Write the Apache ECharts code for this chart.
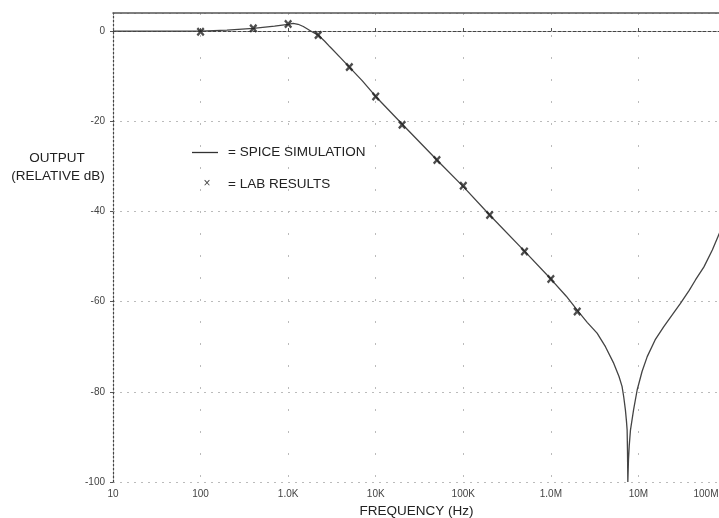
<!DOCTYPE html>
<html>
<head>
<meta charset="utf-8">
<script src="https://cdn.jsdelivr.net/npm/echarts@6/dist/echarts.min.js"></script>
<style>
  html, body { margin: 0; padding: 0; background: #fff; overflow: hidden; }
  /* 图表比窗口略宽，右边 100M 网格线落在窗口外（与原图一致） */
  #chart { width: 726px; height: 518px; }
</style>
</head>
<body>
<div id="chart"></div>
<script>
// 频率刻度标签（对数轴，每十倍一个）
var xTickLabels = ['10', '100', '1.0K', '10K', '100K', '1.0M', '10M', '100M'];

// SPICE 仿真曲线（频率 Hz / 输出 dB）
var simFreq = [10, 30, 100, 200, 400, 700, 1000, 1140, 1300, 1490, 1870, 2200, 2600, 3000, 4000, 5000,
  7000, 10000, 20000, 50000, 100000, 200000, 500000, 1e6, 1.5e6, 2e6, 2.6e6, 3.37e6, 4.2e6, 5.23e6, 6e6, 6.5e6,
  6.79e6, 7.1e6, 7.3e6, 7.43e6, 7.5e6, 7.57e6,
  7.7e6, 7.85e6, 8.11e6, 8.8e6, 9.67e6, 1.1e7, 1.26e7, 1.55e7, 1.94e7, 2.5e7, 3.02e7, 3.8e7, 4.48e7, 5.6e7, 7e7, 8.5e7, 1e8];
var simDb = [0, 0, 0, 0.2, 0.6, 1.1, 1.5, 1.7, 1.5, 1.0, -0.15, -0.9, -2.2, -3.5, -6.0, -8.0,
  -11.0, -14.5, -20.6, -28.6, -34.5, -40.8, -48.8, -55.0, -58.8, -61.9, -64.6, -67.0, -70.0, -73.7, -76.6, -78.8,
  -81.1, -84.0, -86.5, -88.5, -93, -100,
  -95, -92, -88.5, -84, -79.6, -75.5, -72.2, -68.5, -65.6, -62.6, -60.4, -57.5, -55.2, -52.3, -48.5, -44.6, -41];

// 实验测量点
var labFreq = [100, 400, 1000, 2200, 5000, 10000, 20000, 50000, 100000, 200000, 500000, 1e6, 2e6];
var labDb = [-0.15, 0.6, 1.55, -0.9, -8.0, -14.5, -20.8, -28.6, -34.3, -40.8, -48.9, -55.0, -62.2];

var FONT = '"Liberation Sans", Arial, sans-serif';
var chart = echarts.init(document.getElementById('chart'));

var simData = simFreq.map(function (f, i) { return [f, simDb[i]]; });
var labData = labFreq.map(function (f, i) { return [f, labDb[i]]; });

// 粗体 × 形状
var crossPath = 'path://M0,2L2,0L5,3L8,0L10,2L7,5L10,8L8,10L5,7L2,10L0,8L3,5Z';

var option = {
    backgroundColor: '#fff',
    animation: false,
    grid: { left: 113, right: 0, top: 13, bottom: 36, outerBoundsMode: 'none' },
    xAxis: [
        {
            type: 'log',
            logBase: 10,
            min: 10,
            max: 1e8,
            name: 'FREQUENCY (Hz)',
            nameLocation: 'middle',
            nameGap: 20,
            nameTextStyle: { color: '#222', fontSize: 13.5, fontFamily: FONT, padding: [0, 6, 0, 0] },
            axisLine: { lineStyle: { color: '#444', type: [3, 2], width: 1.2 } },
            axisTick: { show: true, inside: true, length: 3, lineStyle: { color: '#555' } },
            axisLabel: {
                color: '#444', fontSize: 10, fontFamily: FONT, margin: 7,
                formatter: function (v) {
                    var i = Math.round(Math.log10(v)) - 1;
                    if (i === xTickLabels.length - 1) return '{last|' + xTickLabels[i] + '}';
                    return xTickLabels[i];
                },
                rich: { last: { color: '#444', fontSize: 10, fontFamily: FONT, padding: [0, 40, 0, 0] } }
            },
            splitLine: { show: true, lineStyle: { color: '#bbb', type: [2, 20], width: 1 } }
        },
        {
            type: 'log',
            logBase: 10,
            min: 10,
            max: 1e8,
            position: 'top',
            axisLine: { lineStyle: { color: '#555', width: 1.5 } },
            axisTick: { show: false },
            axisLabel: { show: false },
            splitLine: { show: false }
        }
    ],
    yAxis: {
        type: 'value',
        min: -100,
        max: 4,
        interval: 20,
        axisLine: { show: true, lineStyle: { color: '#444', type: [2, 2], width: 1.2 } },
        axisTick: { show: true, length: 3, lineStyle: { color: '#555' } },
        axisLabel: { color: '#444', fontSize: 10, fontFamily: FONT, margin: 8, showMaxLabel: false },
        splitLine: { show: true, lineStyle: { color: '#bbb', type: [2, 5], width: 1 } }
    },
    series: [
        {
            name: 'SPICE SIMULATION',
            type: 'line',
            data: simData,
            showSymbol: false,
            smooth: false,
            lineStyle: { color: '#444', width: 1.3 }
        },
        {
            name: 'LAB RESULTS',
            type: 'scatter',
            data: labData,
            symbol: crossPath,
            symbolSize: [8, 9],
            itemStyle: { color: '#222' },
            z: 3
        }
    ],
    graphic: [
        { type: 'text', x: 57, y: 158, style: { text: 'OUTPUT', fill: '#222', font: '13.5px ' + FONT, textAlign: 'center', textVerticalAlign: 'middle' } },
        { type: 'text', x: 58, y: 176, style: { text: '(RELATIVE dB)', fill: '#222', font: '13.5px ' + FONT, textAlign: 'center', textVerticalAlign: 'middle' } },
        { type: 'line', shape: { x1: 192, y1: 152.5, x2: 218, y2: 152.5 }, style: { stroke: '#333', lineWidth: 1.3 } },
        { type: 'text', x: 228, y: 152, style: { text: '= SPICE SIMULATION', fill: '#222', font: '13.5px ' + FONT, textVerticalAlign: 'middle' } },
        { type: 'text', x: 207, y: 184, style: { text: '×', fill: '#444', font: '12px ' + FONT, textAlign: 'center', textVerticalAlign: 'middle' } },
        { type: 'text', x: 228, y: 184, style: { text: '= LAB RESULTS', fill: '#222', font: '13.5px ' + FONT, textVerticalAlign: 'middle' } }
    ]
};

chart.setOption(option);
window.onresize = function () { chart.resize(); };
</script>
</body>
</html>
